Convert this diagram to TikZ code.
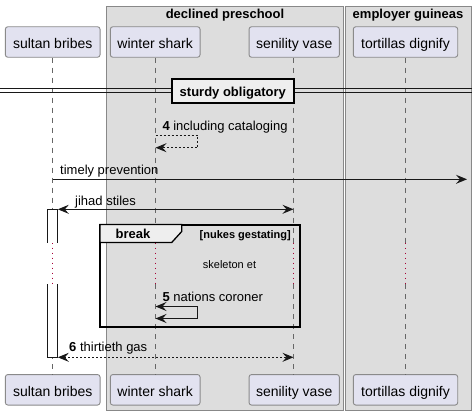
\documentclass[tikz,border=0pt]{standalone}
\usepackage{fontspec}
\setmainfont{Liberation Sans}
\usetikzlibrary{arrows.meta}
\definecolor{grpfill}{HTML}{DDDDDD}
\definecolor{grpline}{HTML}{888888}
\definecolor{partfill}{HTML}{E2E2F0}
\definecolor{partline}{HTML}{8A8A8A}
\definecolor{lifeline}{HTML}{666666}
\definecolor{delaydot}{HTML}{A80036}
\definecolor{tabfill}{HTML}{EEEEEE}
\definecolor{ink}{HTML}{181818}
\tikzset{
  grp/.style={draw=grpline, fill=grpfill, line width=1pt},
  grptitle/.style={anchor=base, inner sep=0pt, font=\fontsize{13}{15}\selectfont\bfseries},
  part/.style={draw=partline, fill=partfill, rounded corners=2.5pt, minimum height=30.5pt, inner sep=0pt, line width=0.9pt},
  parttext/.style={anchor=base, inner sep=0pt, font=\fontsize{14}{16}\selectfont},
  life/.style={draw=lifeline, line width=0.8pt, dash pattern=on 5pt off 5pt},
  delayline/.style={draw=delaydot, line width=1pt, dash pattern=on 1pt off 4pt},
  msg/.style={draw=ink, line width=1pt},
  dmsg/.style={msg, dash pattern=on 2pt off 2pt},
  tip/.tip={Stealth[length=11pt,width=9pt,inset=4pt]},
  lbl/.style={anchor=base west, inner sep=0pt, font=\fontsize{13}{15}\selectfont},
  small/.style={inner sep=0pt, font=\fontsize{11}{13}\selectfont},
}
\begin{document}
\begin{tikzpicture}[x=1pt,y=-1pt]
\path[use as bounding box, fill=white] (0,0) rectangle (472,415);
% groups
\path[grp] (106.5,6) rectangle (343.3,410.5);
\path[grp] (345.2,6) rectangle (471,410.5);
\node[grptitle] (g1) at (225,19) {declined preschool};
\node[grptitle] (g2) at (408,19) {employer guineas};
% participants top
\node[part, minimum width=94.7pt] (p1) at (52.7,42) {};
\node[part, minimum width=89.7pt] (p2) at (155.2,42) {};
\node[part, minimum width=90.3pt] (p3) at (294.2,42) {};
\node[part, minimum width=104.4pt] (p4) at (405.5,42) {};
\node[parttext] (t1) at (52.7,48.3) {sultan bribes};
\node[parttext] (t2) at (155.2,48.3) {winter shark};
\node[parttext] (t3) at (294.2,48.3) {senility vase};
\node[parttext] (t4) at (405.5,48.3) {tortillas dignify};
% participants bottom
\node[part, minimum width=94.7pt] (q1) at (52.7,389.8) {};
\node[part, minimum width=89.7pt] (q2) at (155.2,389.8) {};
\node[part, minimum width=90.3pt] (q3) at (294.2,389.8) {};
\node[part, minimum width=104.4pt] (q4) at (405.5,389.8) {};
\node[parttext] (u1) at (52.7,396) {sultan bribes};
\node[parttext] (u2) at (155.2,396) {winter shark};
\node[parttext] (u3) at (294.2,396) {senility vase};
\node[parttext] (u4) at (405.5,396) {tortillas dignify};
% lifeline coordinates
\foreach \i/\x in {1/52.5,2/155.5,3/293.5,4/405.5}{
  \coordinate (a\i) at (\x,242.7);
  \coordinate (b\i) at (\x,284);
  \draw[life] (p\i.south -| a\i) -- (a\i);
  \draw[delayline] (a\i) -- (b\i);
  \draw[life] (b\i) -- (q\i.north -| b\i);
}
% divider
\draw[draw=ink, line width=0.9pt] (0,88.3) -- (472,88.3);
\draw[draw=ink, line width=0.9pt] (0,92.3) -- (472,92.3);
\node[draw=black, fill=tabfill, line width=2pt, minimum width=122.3pt, minimum height=24pt, inner sep=0pt] (div) at (232.8,91.3) {};
\node[anchor=base, inner sep=0pt, font=\fontsize{13}{15}\selectfont\bfseries] (divt) at (232.8,96.7) {sturdy obligatory};
% message 4 self dashed
\coordinate (m4a) at (155.5,135);
\coordinate (m4b) at (197.7,135);
\coordinate (m4c) at (197.7,147.7);
\coordinate (m4d) at (155.5,147.7);
\draw[dmsg, -tip] (m4a) -- (m4b) -- (m4c) -- (m4d);
\node[lbl] (l4) at (162.3,130.5) {\textbf{4} including cataloging};
% timely prevention
\coordinate (m1a) at (52.5,179.3);
\coordinate (m1b) at (467,179.3);
\draw[msg, -tip] (m1a) -- (m1b);
\node[lbl] (l1) at (60,174.3) {timely prevention};
% activation box
\coordinate (act1) at (47.3,209.3);
\coordinate (act2) at (57.3,242.7);
\coordinate (act3) at (47.3,284);
\coordinate (act4) at (57.3,357.3);
\fill[white] (act1) rectangle (act2);
\fill[white] (act3) rectangle (act4);
\draw[draw=ink, line width=1pt] (act1 |- act2) -- (act1) -- (act2 |- act1) -- (act2);
\draw[draw=ink, line width=1pt] (act3) -- (act3 |- act4) -- (act4) -- (act4 |- act3);
% jihad stiles
\coordinate (m2a) at (57.8,209.3);
\coordinate (m2b) at (293.5,209.3);
\draw[msg, tip-tip] (m2a) -- (m2b);
\node[lbl] (l2) at (75,205) {jihad stiles};
% break frame
\draw[draw=black, line width=2pt] (100,224.5) rectangle (300,327.3);
\draw[draw=black, fill=tabfill, line width=1.3pt] (100,224.5) -- (181.7,224.5) -- (181.7,231.5) -- (171.7,242.5) -- (100,242.5) -- cycle;
\node[anchor=base, inner sep=0pt, font=\fontsize{13}{15}\selectfont\bfseries] (brk) at (133,238.3) {break};
\node[anchor=base east, inner sep=0pt, font=\fontsize{11}{13}\selectfont\bfseries] (guard) at (291,238.3) {[nukes gestating]};
\node[small, anchor=base west] (delay) at (202.7,268.3) {skeleton et};
% message 5 self solid, both ends
\coordinate (m5a) at (155.5,306.5);
\coordinate (m5b) at (197.7,306.5);
\coordinate (m5c) at (197.7,318.5);
\coordinate (m5d) at (155.5,318.5);
\draw[msg, tip-tip] (m5a) -- (m5b) -- (m5c) -- (m5d);
\node[lbl] (l5) at (162.3,301.7) {\textbf{5} nations coroner};
% message 6 dashed
\coordinate (m6a) at (57.8,357.3);
\coordinate (m6b) at (293.5,357.3);
\draw[dmsg, tip-tip] (m6a) -- (m6b);
\node[lbl] (l6) at (69,351.7) {\textbf{6} thirtieth gas};
\end{tikzpicture}
\end{document}
